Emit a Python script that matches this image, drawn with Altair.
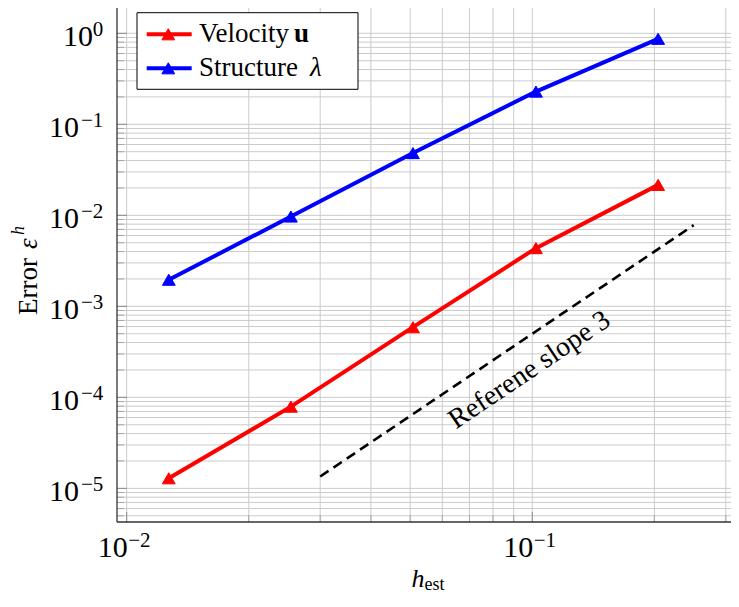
import altair as alt
import pandas as pd

# ---------------- data ----------------
h_est = [0.0127, 0.0254, 0.0508, 0.1021, 0.2043]
err_velocity = [1.29e-5, 7.9e-5, 5.9e-4, 4.36e-3, 2.16e-2]
err_structure = [1.96e-3, 9.7e-3, 4.83e-2, 0.229, 0.87]
series = ["Velocity", "Structure"]
series_colors = ["#ff0000", "#0000ff"]

ref_h = [0.03, 0.25]
ref_err = [1.35e-5, 7.8e-3]
ref_label = "Referene slope 3"
ref_label_pos = [0.101, 1.68e-4]

x_domain = [0.009465, 0.3090]
y_domain = [4.27e-6, 1.897]
x_major = [0.01, 0.1]
x_major_exp = ["\u22122", "\u22121"]
x_minor = [0.02, 0.03, 0.04, 0.05, 0.06, 0.07, 0.08, 0.09, 0.2, 0.3]
y_major = [1e-5, 1e-4, 1e-3, 1e-2, 1e-1]
y_major_exp = ["\u22125", "\u22124", "\u22123", "\u22122", "\u22121"]
y_zero = [1.0]
y_zero_exp = ["0"]
y_minor = [k * 10.0 ** e for e in range(-6, 1) for k in range(2, 10)]
y_minor = [v for v in y_minor if y_domain[0] <= v <= y_domain[1]]

FONT = "Liberation Serif"
W, H = 614, 514

xs = alt.Scale(type="log", domain=x_domain, nice=False)
ys = alt.Scale(type="log", domain=y_domain, nice=False)

one = pd.DataFrame({"a": [0]})

# ---------------- grid & ticks ----------------
df_xgrid = pd.DataFrame({"v": x_major + x_minor})
df_ygrid = pd.DataFrame({"v": y_major + y_zero + y_minor})
grid_v = alt.Chart(df_xgrid).mark_rule(color="#cbcbcb", strokeWidth=1).encode(
    x=alt.X("v:Q", scale=xs, axis=None), y=alt.value(0), y2=alt.value(H))
grid_h = alt.Chart(df_ygrid).mark_rule(color="#cbcbcb", strokeWidth=1).encode(
    y=alt.Y("v:Q", scale=ys, axis=None), x=alt.value(0), x2=alt.value(W))

df_xmaj = pd.DataFrame({"v": x_major, "e": x_major_exp})
df_xmin = pd.DataFrame({"v": x_minor})
df_ymaj = pd.DataFrame({"v": y_major, "e": y_major_exp})
df_yzero = pd.DataFrame({"v": y_zero, "e": y_zero_exp})
df_ymajall = pd.DataFrame({"v": y_major + y_zero})
df_ymin = pd.DataFrame({"v": y_minor})

tick_layers = []
for df, ln, col in [(df_xmaj, 10, "#8a8a8a"), (df_xmin, 7, "#a8a8a8")]:
    tick_layers.append(alt.Chart(df).mark_rule(color=col).encode(
        x=alt.X("v:Q", scale=xs, axis=None), y=alt.value(H), y2=alt.value(H - ln)))
for df, ln, col in [(df_ymajall, 10, "#8a8a8a"), (df_ymin, 7, "#a8a8a8")]:
    tick_layers.append(alt.Chart(df).mark_rule(color=col).encode(
        y=alt.Y("v:Q", scale=ys, axis=None), x=alt.value(0), x2=alt.value(ln)))

frame_left = alt.Chart(one).mark_rule(color="#333333", strokeWidth=1.3).encode(
    x=alt.value(0), y=alt.value(0), y2=alt.value(H))
frame_bottom = alt.Chart(one).mark_rule(color="#333333", strokeWidth=1.3).encode(
    y=alt.value(H), x=alt.value(0), x2=alt.value(W))

# ---------------- data marks ----------------
rows = []
for name, vals in zip(series, [err_velocity, err_structure]):
    for hv, ev in zip(h_est, vals):
        rows.append({"series": name, "h": hv, "err": ev})
df = pd.DataFrame(rows)
color = alt.Color("series:N", scale=alt.Scale(domain=series, range=series_colors), legend=None)

lines = alt.Chart(df).mark_line(strokeWidth=4).encode(
    x=alt.X("h:Q", scale=xs, axis=None), y=alt.Y("err:Q", scale=ys, axis=None),
    color=color, detail="series:N")
points = alt.Chart(df).mark_point(shape="triangle-up", filled=True, size=165, opacity=1,
                                  strokeWidth=1).encode(
    x=alt.X("h:Q", scale=xs, axis=None), y=alt.Y("err:Q", scale=ys, axis=None),
    color=color, stroke=color)

df_ref = pd.DataFrame({"h": ref_h, "err": ref_err})
ref_line = alt.Chart(df_ref).mark_line(color="black", strokeWidth=2.6, strokeDash=[10, 6]).encode(
    x=alt.X("h:Q", scale=xs, axis=None), y=alt.Y("err:Q", scale=ys, axis=None))
df_ref_lab = pd.DataFrame({"h": [ref_label_pos[0]], "err": [ref_label_pos[1]], "t": [ref_label]})
ref_text = alt.Chart(df_ref_lab).mark_text(font=FONT, fontSize=28, angle=326, align="center",
                                          baseline="alphabetic", color="black").encode(
    x=alt.X("h:Q", scale=xs, axis=None), y=alt.Y("err:Q", scale=ys, axis=None), text="t:N")

# ---------------- tick labels ----------------
xlab_base = alt.Chart(df_xmaj).mark_text(text="10", font=FONT, fontSize=30, align="right",
                                         baseline="alphabetic", dx=1).encode(
    x=alt.X("v:Q", scale=xs, axis=None), y=alt.value(548.7))
xlab_exp = alt.Chart(df_xmaj).mark_text(font=FONT, fontSize=21, align="left",
                                        baseline="alphabetic", dx=1.5).encode(
    x=alt.X("v:Q", scale=xs, axis=None), y=alt.value(539), text="e:N")
ylab_base = alt.Chart(df_ymaj).mark_text(text="10", font=FONT, fontSize=30, align="right",
                                         baseline="alphabetic", dy=12.8).encode(
    y=alt.Y("v:Q", scale=ys, axis=None), x=alt.value(-38))
ylab_exp = alt.Chart(df_ymaj).mark_text(font=FONT, fontSize=21, align="right",
                                        baseline="alphabetic", dy=2.8).encode(
    y=alt.Y("v:Q", scale=ys, axis=None), x=alt.value(-13.7), text="e:N")
ylab0_base = alt.Chart(df_yzero).mark_text(text="10", font=FONT, fontSize=30, align="right",
                                           baseline="alphabetic", dy=12.8).encode(
    y=alt.Y("v:Q", scale=ys, axis=None), x=alt.value(-24))
ylab0_exp = alt.Chart(df_yzero).mark_text(font=FONT, fontSize=21, align="right",
                                          baseline="alphabetic", dy=2.8).encode(
    y=alt.Y("v:Q", scale=ys, axis=None), x=alt.value(-13.7), text="e:N")

# ---------------- axis titles ----------------
xt_h = alt.Chart(one).mark_text(text="h", font=FONT, fontSize=26, fontStyle="italic",
                                align="left", baseline="alphabetic").encode(
    x=alt.value(294.5), y=alt.value(578.5))
xt_sub = alt.Chart(one).mark_text(text="est", font=FONT, fontSize=18, align="left",
                                  baseline="alphabetic").encode(
    x=alt.value(307.5), y=alt.value(581.8))
yt_err = alt.Chart(one).mark_text(text="Error", font=FONT, fontSize=27, angle=270,
                                  align="left", baseline="alphabetic").encode(
    x=alt.value(-80.3), y=alt.value(307))
yt_eps = alt.Chart(one).mark_text(text="\u03b5", font=FONT, fontSize=27, fontStyle="italic",
                                  angle=270, align="left", baseline="alphabetic").encode(
    x=alt.value(-80.3), y=alt.value(241))
yt_h = alt.Chart(one).mark_text(text="h", font=FONT, fontSize=18, fontStyle="italic",
                                angle=270, align="left", baseline="alphabetic").encode(
    x=alt.value(-93), y=alt.value(227))

# ---------------- legend ----------------
leg_box = alt.Chart(one).mark_rect(fill="white", stroke="black", strokeWidth=1).encode(
    x=alt.value(20), x2=alt.value(241), y=alt.value(4.7), y2=alt.value(81.3))
leg_layers = [leg_box]
for name, col, yy in zip(series, series_colors, [26.3, 60.3]):
    leg_layers.append(alt.Chart(one).mark_rule(color=col, strokeWidth=4).encode(
        x=alt.value(29.7), x2=alt.value(74.7), y=alt.value(yy)))
    leg_layers.append(alt.Chart(one).mark_point(shape="triangle-up", filled=True, size=165,
                                                opacity=1, color=col, stroke=col,
                                                strokeWidth=1).encode(
        x=alt.value(51.3), y=alt.value(yy)))
    leg_layers.append(alt.Chart(one).mark_text(text=name, font=FONT, fontSize=27, align="left",
                                               baseline="alphabetic").encode(
        x=alt.value(82), y=alt.value(yy + 7.6)))
leg_layers.append(alt.Chart(one).mark_text(text="u", font=FONT, fontSize=27, fontWeight="bold",
                                           align="left", baseline="alphabetic").encode(
    x=alt.value(177), y=alt.value(33.9)))
leg_layers.append(alt.Chart(one).mark_text(text="\u03bb", font=FONT, fontSize=27,
                                           fontStyle="italic", align="left",
                                           baseline="alphabetic").encode(
    x=alt.value(193), y=alt.value(67.9)))

chart = alt.layer(
    grid_v, grid_h, *tick_layers, frame_left, frame_bottom,
    ref_line, lines, points, ref_text,
    xlab_base, xlab_exp, ylab_base, ylab_exp, ylab0_base, ylab0_exp,
    xt_h, xt_sub, yt_err, yt_eps, yt_h,
    *leg_layers,
).properties(
    width=W, height=H,
    autosize=alt.AutoSizeParams(type="none"),
    padding={"left": 109, "top": 0, "right": 0, "bottom": 73},
).configure_view(strokeWidth=0)

chart.save("out.html", embed_options={"renderer": "svg", "actions": False})
